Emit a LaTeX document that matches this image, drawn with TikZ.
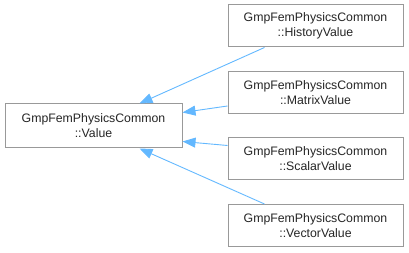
\documentclass[tikz,border=0pt]{standalone}
\usepackage{fontspec}
\setmainfont{Liberation Sans}
\usetikzlibrary{arrows.meta,calc}
\definecolor{edgeblue}{HTML}{63B8FF}
\definecolor{boxgray}{HTML}{999999}
\tikzset{
  classbox/.style={draw=boxgray, line width=1pt, fill=white, rectangle,
    align=center, inner sep=0pt, font=\fontsize{12.3}{15}\selectfont,
    text=black!85},
  inherit/.style={draw=edgeblue, line width=0.9pt,
    -{Triangle[length=13pt,width=10pt]}, color=edgeblue},
}
\begin{document}
\begin{tikzpicture}[x=1pt,y=1pt]
\useasboundingbox (0,0) rectangle (409,253);
\node[classbox, minimum width=177pt, minimum height=44pt] (val) at (93.5,127) {GmpFemPhysicsCommon\\::Value};
\node[classbox, minimum width=175pt, minimum height=42pt] (hv) at (315.5,227) {GmpFemPhysicsCommon\\::HistoryValue};
\node[classbox, minimum width=175pt, minimum height=42pt] (mv) at (315.5,160.5) {GmpFemPhysicsCommon\\::MatrixValue};
\node[classbox, minimum width=175pt, minimum height=42pt] (sv) at (315.5,94) {GmpFemPhysicsCommon\\::ScalarValue};
\node[classbox, minimum width=175pt, minimum height=42pt] (vv) at (315.5,27.5) {GmpFemPhysicsCommon\\::VectorValue};
\draw[inherit] ($(hv.south west)+(37,0)$) -- ($(val.north west)+(135,0)$);
\draw[inherit] ($(mv.south west)+(0,8)$) -- ($(val.north east)+(0,-9)$);
\draw[inherit] ($(sv.north west)+(0,-8)$) -- ($(val.south east)+(0,7)$);
\draw[inherit] ($(vv.north west)+(37,0)$) -- ($(val.south west)+(135,0)$);
\end{tikzpicture}
\end{document}
